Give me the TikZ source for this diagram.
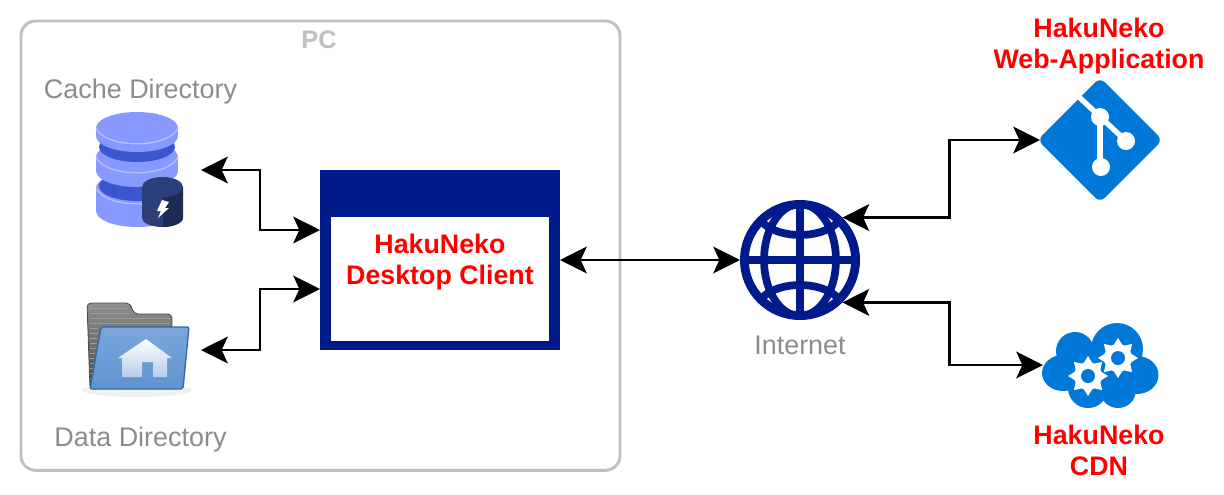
\documentclass[tikz,border=0pt]{standalone}
\usepackage{fontspec}
\setmainfont{Liberation Sans}
\usetikzlibrary{arrows.meta}
\definecolor{navy}{HTML}{001A8C}
\definecolor{azure}{HTML}{0078D7}
\definecolor{graytx}{HTML}{8C8C8C}
\definecolor{frame}{HTML}{C0C0C0}
\definecolor{dbA}{HTML}{8799FF}
\definecolor{dbB}{HTML}{B4C0FF}
\definecolor{dbC}{HTML}{3D55D0}
\definecolor{cylA}{HTML}{2C3F78}
\definecolor{cylB}{HTML}{1B2B52}
\definecolor{folderT}{HTML}{8E8E8E}
\definecolor{folderB}{HTML}{4A4A4A}
\definecolor{folderS}{HTML}{9A9A9A}
\definecolor{blueT}{HTML}{7AA7DB}
\definecolor{blueB}{HTML}{5F93CF}
\definecolor{blueE}{HTML}{3566A8}
\definecolor{houseB}{HTML}{B5CDE8}
\tikzset{
  x=0.75pt,y=-0.75pt,
  conn/.style={line width=2.2pt,black,{Stealth[length=20pt,width=20pt,inset=4.5pt]}-{Stealth[length=20pt,width=20pt,inset=4.5pt]}},
  hub/.style={inner sep=0pt,outer sep=0pt,minimum height=1pt,minimum width=#1},
  redlabel/.style={text=red,font=\fontsize{20.1}{23}\selectfont\bfseries,align=center,inner sep=0pt},
  graylabel/.style={text=graytx,font=\fontsize{20.2}{24}\selectfont,inner sep=0pt},
  box/.style={inner sep=0pt,outer sep=0pt,anchor=north west},
}
\newcommand{\dbdisk}[2]{%
  \fill[dbA] (137,#1) ellipse[x radius=41,y radius=16];
  \fill[dbA] (96,#1) rectangle (178,#2);
  \fill[dbA] (137,#2) ellipse[x radius=41,y radius=16];
  \draw[dbB,line width=1pt] (96,#1) .. controls (105,{#1+21}) and (169,{#1+21}) .. (178,#1);
}
\begin{document}
\begin{tikzpicture}
\useasboundingbox (0,0) rectangle (1224,494);
\fill[white] (0,0) rectangle (1224,494);
% PC frame
\node[box,draw=frame,line width=2.2pt,rounded corners=11pt,minimum width=449.25pt,minimum height=337pt] (pc) at (21,21) {};
\node[text=frame,font=\fontsize{19}{24}\selectfont\bfseries,inner sep=0pt] (pclabel) at (319,40) {PC};
\node[graylabel] (cachelabel) at (140.5,92) {Cache Directory};
\node[graylabel] (datalabel) at (140.5,439.5) {Data Directory};
\node[graylabel] (netlabel) at (800,345) {Internet};
% client window
\node[box,fill=navy,minimum width=180pt,minimum height=135pt] (client) at (320,170) {};
\node[box,fill=white,minimum width=163.5pt,minimum height=93pt] (clientbody) at (331,217) {};
\node[redlabel] (clienttext) at (440,262) {HakuNeko\\Desktop Client};
% anchor nodes for the icons
\node[hub=78pt] (cache) at (149,170) {};
\node[hub=78pt] (data) at (149,350) {};
\node[circle,inner sep=0pt,outer sep=0pt,minimum size=90pt] (net) at (800,260) {};
\node[hub=90pt] (git) at (1100,140) {};
\node[hub=87pt] (cloud) at (1101,365) {};
% database icon
\dbdisk{188}{211}
\fill[dbC] (137,186) ellipse[x radius=38,y radius=15];
\dbdisk{157}{171}
\fill[dbC] (137,147) ellipse[x radius=38,y radius=15];
\dbdisk{128}{136}
\fill[cylA] (142,187) rectangle (183,218);
\fill[cylA] (162.5,218) ellipse[x radius=20.5,y radius=9];
\fill[cylB] (163,187) -- (163,227) .. controls (172,227) and (183,223) .. (183,218) -- (183,187) -- cycle;
\fill[cylA] (162.5,187) ellipse[x radius=20.5,y radius=10];
\fill[white] (162,200) -- (169,202) -- (165,208) -- (169,208) -- (158,218) -- (161,211) -- (157,211) -- cycle;
% folder icon
\fill[black!6] (137,390) ellipse[x radius=55,y radius=7];
\shade[top color=folderT,bottom color=folderB,rounded corners=3pt,draw=folderB,line width=0.6pt] (87,303) -- (130,303) -- (134,314) -- (172,314) -- (172,345) -- (100,389) -- (90,389) -- cycle;
\foreach \yy in {318,323}{\fill[folderS] (90,\yy) rectangle (170,{\yy+1});}
\foreach \yy in {308,313,328,333,338,343,348,353,358,363,368,373,378}{\fill[folderS] (90,\yy) rectangle (98,{\yy+1});}
\fill[folderS] (90,308) rectangle (128,309);
\fill[folderS] (90,313) rectangle (130,314);
\shade[top color=blueT,bottom color=blueB,draw=blueE,line width=1pt,rounded corners=1.5pt] (101,327) -- (189,327) -- (183,389) -- (90,389) -- cycle;
\shade[top color=white,bottom color=houseB] (146,339) -- (172,358) -- (167,358) -- (167,377) -- (153,377) -- (153,362) -- (142,362) -- (142,377) -- (122,377) -- (122,358) -- (118,358) -- cycle;
% globe
\begin{scope}[navy,line width=5.8pt]
\draw[line width=6.6pt] (800,260) circle[radius=55.6];
\draw (800,204) -- (800,316);
\draw (744,260) -- (856,260);
\draw (800,260) ellipse[x radius=36,y radius=56];
\draw (763,223) .. controls (780,239) and (820,239) .. (837,223);
\draw (763,297) .. controls (780,281) and (820,281) .. (837,297);
\end{scope}
% git diamond
\fill[azure,rounded corners=5pt] (1100,77.5) -- (1162.5,140) -- (1100,202.5) -- (1037.5,140) -- cycle;
\draw[white,line width=4pt] (1079,97) -- (1126,141);
\draw[white,line width=4pt] (1100,117) -- (1100,167);
\fill[white] (1100,117) circle[radius=9];
\fill[white] (1126,141) circle[radius=9];
\fill[white] (1101,167) circle[radius=9];
% cloud
\fill[azure] (1075,351) circle[radius=19];
\fill[azure] (1117,349) circle[radius=26];
\fill[azure] (1063,373) ellipse[x radius=21,y radius=18];
\fill[azure] (1137,375) ellipse[x radius=21.5,y radius=19];
\fill[azure] (1088,388) circle[radius=20];
\fill[azure] (1118,390) circle[radius=18];
\fill[azure] (1070,350) rectangle (1130,385);
\foreach \cx/\cy in {1088/376,1118/358}{
  \foreach \a in {0,45,...,315}{
    \fill[white] ({\cx+20*cos(\a)},{\cy+20*sin(\a)}) -- ({\cx+13*cos(\a+22.5)},{\cy+13*sin(\a+22.5)}) -- ({\cx+13*cos(\a-22.5)},{\cy+13*sin(\a-22.5)}) -- cycle;
  }
  \fill[white] (\cx,\cy) circle[radius=14];
  \fill[azure] (\cx,\cy) circle[radius=7];
}
\node[redlabel] (webtext) at (1099,46) {HakuNeko\\Web-Application};
\node[redlabel] (cdntext) at (1099,450.5) {HakuNeko\\CDN};
% connectors
\draw[conn] (cache.east) -- ++(59,0) |- ([yshift=22.5pt]client.west);
\draw[conn] (data.east) -- ++(59,0) |- ([yshift=-21.75pt]client.west);
\draw[conn] (client.east) -- (net.west);
\draw[conn] (net.45) -- ++(107,0) |- (git.west);
\draw[conn] (net.-45) -- ++(107,0) |- (cloud.west);
\end{tikzpicture}
\end{document}
